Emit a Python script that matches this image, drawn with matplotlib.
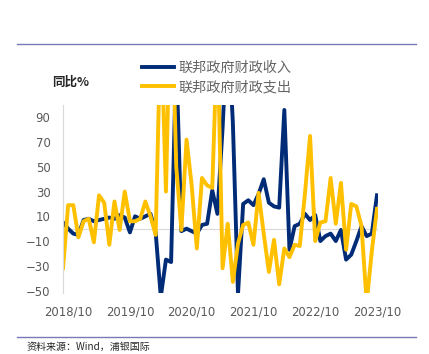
import matplotlib
matplotlib.use("Agg")
import matplotlib.pyplot as plt
from matplotlib.lines import Line2D
import numpy as np

W, H = 429, 354

# monthly YoY %, 2018/09 .. 2023/10
revenue = [5, 0, -4, -5, 7, 8, 6, 7, 8, 9,
           8, 11, 9, -3, 10, 8, 10, 12, -3, -55,
           -25, -27, 140, -2, 0, -2, -4, 3, 4, 31,
           12, 81, 167, 86, -53, 20, 23, 19, 28, 40,
           21, 18, 17, 96, -17, 2, 4, 12, 7, 11,
           -10, -6, -4, -10, -1, -25, -21, -10, 2, -6,
           -4, 27]
spending = [-32, 19, 19, -7, 6, 8, -11, 27, 21, -13,
            22, -1, 30, 6, 6, 8, 22, 10, -5, 170,
            30, 210, 50, -1, 72, 35, -16, 41, 35, 33,
            160, -32, 4, -43, -12, 3, 5, -13, 29, -4,
            -35, -9, -45, -16, -23, -13, -14, 28, 75, -10,
            5, 6, 41, 4, 37, -17, 20, 18, 2, -60,
            -18, 16]
x_labels = ['2018/10', '2019/10', '2020/10', '2021/10', '2022/10', '2023/10']
x_label_idx = [1, 13, 25, 37, 49, 61]
series_names = ['联邦政府财政收入', '联邦政府财政支出']

NAVY = '#002C77'
GOLD = '#FFC000'
GREY = '#595959'
RULE = '#7B78B8'
CJK = ['Noto Sans CJK SC', 'DejaVu Sans']

fig = plt.figure(figsize=(W / 100, H / 100), dpi=100)
ax = fig.add_axes([63 / W, 61 / H, 315 / W, 188 / H])

x = np.arange(len(revenue))
ax.plot(x, revenue, color=NAVY, lw=2.8, label=series_names[0])
ax.plot(x, spending, color=GOLD, lw=2.8, label=series_names[1])
ax.axhline(0, color='#D9D9D9', lw=0.8, zorder=0)

ax.set_xlim(0, 61.2)
ax.set_ylim(-52, 100)
ax.set_yticks(range(-50, 91, 20))
ax.set_xticks(x_label_idx, x_labels)
ax.tick_params(length=0, colors=GREY, labelsize=8.4)
ax.tick_params(axis='x', pad=9)
ax.tick_params(axis='y', pad=9)
for s in ['top', 'right', 'bottom']:
    ax.spines[s].set_visible(False)
ax.spines['left'].set_color('#D9D9D9')
ax.spines['left'].set_linewidth(0.8)

leg = fig.legend(loc='upper left', bbox_to_anchor=(142 / W, 1 - 61 / H),
                 frameon=False, borderpad=0, borderaxespad=0,
                 handlelength=2.25, handletextpad=0.3, labelspacing=0.35,
                 prop={'family': CJK, 'size': 10.2})
for t in leg.get_texts():
    t.set_color('#666666')

fig.text(52 / W, 1 - 82 / H, '同比%', family=CJK, fontsize=9,
         fontweight='bold', color='#262626', va='center', ha='left')

# frame rules and source
fig.add_artist(Line2D([17 / W, 416 / W], [1 - 44 / H] * 2, color=RULE, lw=1))
fig.add_artist(Line2D([17 / W, 416 / W], [1 - 337 / H] * 2, color=RULE, lw=1))
fig.text(27 / W, 1 - 347 / H, '资料来源：Wind，浦银国际', family=CJK,
         fontsize=7.2, color='#262626', va='center', ha='left')

fig.savefig('out.png', dpi=100)
